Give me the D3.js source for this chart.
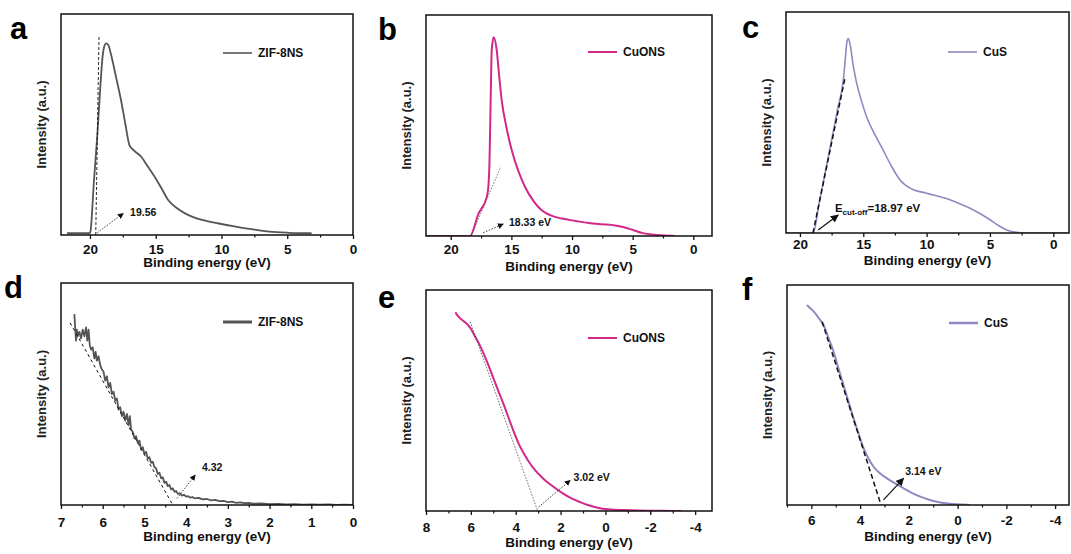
<!DOCTYPE html>
<html>
<head>
<meta charset="utf-8">
<script src="https://cdn.jsdelivr.net/npm/d3@7"></script>
<style>
  body { margin: 0; background: #fff; }
  svg { font-family: "Liberation Sans", Arial, sans-serif; }
</style>
</head>
<body>
<svg id="chart" width="1071" height="554"></svg>
<script>
// ---- data (binding energy eV, intensity a.u. normalised 0..1) ----
const zifCutoff = [[21.74,0.008],[20.0,0.008],[19.95,0.02],[19.7,0.24],[19.43,0.46],[19.2,0.68],[19.05,0.8],[18.9,0.855],
  [18.77,0.867],[18.6,0.86],[18.41,0.82],[18.0,0.71],[17.64,0.611],[17.3,0.5],[17.0,0.407],[16.6,0.38],[16.1,0.354],
  [15.6,0.31],[15.08,0.264],[14.5,0.205],[14.05,0.158],[13.4,0.122],[12.77,0.098],[12.1,0.08],[11.48,0.068],
  [10.2,0.052],[8.92,0.038],[7.6,0.025],[6.35,0.015],[4.8,0.01],[3.15,0.008]];
const cuonsCutoff = [[22.0,0],[18.41,0],[17.72,0.1],[17.03,0.177],[16.9,0.222],[16.8,0.35],[16.76,0.464],[16.68,0.7],
  [16.62,0.841],[16.46,0.899],[16.21,0.841],[16.0,0.72],[15.8,0.615],[15.4,0.49],[14.97,0.388],[14.4,0.29],
  [13.87,0.222],[13.2,0.16],[12.5,0.116],[11.7,0.092],[10.85,0.079],[9.7,0.068],[8.65,0.059],[7.5,0.053],
  [6.46,0.048],[5.9,0.042],[5.36,0.034],[4.8,0.024],[4.25,0.014],[3.4,0.007],[2.6,0.003],[1.5,0]];
const cusCutoff = [[21.1,0],[18.95,0],[18.5,0.13],[18.0,0.277],[17.5,0.42],[17.0,0.568],[16.58,0.69],[16.4,0.8],
  [16.31,0.857],[16.19,0.88],[16.05,0.857],[15.8,0.76],[15.52,0.677],[15.1,0.59],[14.74,0.526],[14.1,0.447],
  [13.43,0.375],[12.8,0.305],[12.1,0.24],[11.2,0.2],[10.0,0.18],[9.0,0.165],[8.16,0.15],[7.3,0.13],[6.58,0.112],
  [5.8,0.088],[5.0,0.06],[4.3,0.033],[3.69,0.014],[3.0,0.004],[2.1,0],[-1.2,0]];
const zifValence = [[6.68,0.86],[6.66,0.8],[6.64,0.74],[6.62,0.79],[6.6,0.76],[6.56,0.78],[6.52,0.75],[6.48,0.79],
  [6.44,0.76],[6.4,0.8],[6.37,0.74],[6.34,0.79],[6.31,0.72],[6.28,0.7],[6.24,0.71],[6.2,0.66],[6.17,0.69],
  [6.14,0.65],[6.1,0.67],[6.06,0.63],[6.02,0.61],[5.98,0.6],[5.94,0.56],[5.9,0.58],[5.86,0.53],[5.82,0.55],
  [5.78,0.5],[5.74,0.51],[5.7,0.47],[5.66,0.48],[5.62,0.43],[5.58,0.44],[5.54,0.4],[5.5,0.42],[5.46,0.38],
  [5.42,0.41],[5.38,0.36],[5.35,0.4],[5.32,0.34],[5.28,0.33],[5.24,0.3],[5.2,0.31],[5.16,0.28],[5.12,0.29],
  [5.08,0.25],[5.04,0.26],[5.0,0.23],[4.96,0.24],[4.92,0.21],[4.88,0.215],[4.84,0.19],[4.8,0.195],[4.76,0.17],
  [4.72,0.165],[4.68,0.14],[4.64,0.145],[4.6,0.12],[4.56,0.125],[4.52,0.1],[4.48,0.105],[4.44,0.085],[4.4,0.09],
  [4.36,0.07],[4.32,0.075],[4.28,0.06],[4.24,0.063],[4.2,0.05],[4.15,0.052],[4.1,0.042],[4.05,0.046],[4.0,0.038],
  [3.95,0.04],[3.9,0.033],[3.85,0.036],[3.8,0.03],[3.7,0.032],[3.6,0.025],[3.5,0.027],[3.4,0.021],[3.3,0.023],
  [3.2,0.017],[3.1,0.019],[3.0,0.013],[2.9,0.015],[2.8,0.01],[2.7,0.012],[2.6,0.008],[2.5,0.009],[2.4,0.006],
  [2.2,0.007],[2.0,0.004],[1.8,0.005],[1.6,0.003],[1.4,0.004],[1.2,0.002],[1.0,0.003],[0.8,0.002],[0.6,0.003],
  [0.4,0.001],[0.2,0.002],[0.0,0.001]];
const cuonsValence = [[6.69,0.899],[6.6,0.885],[6.5,0.874],[6.4,0.865],[6.3,0.857],[6.2,0.849],[6.1,0.838],[6.0,0.825],
  [5.9,0.806],[5.8,0.787],[5.66,0.762],[5.5,0.728],[5.35,0.693],[5.21,0.658],[5.0,0.602],[4.76,0.539],[4.5,0.472],
  [4.32,0.422],[4.1,0.362],[3.87,0.305],[3.65,0.262],[3.43,0.225],[3.1,0.18],[2.83,0.152],[2.5,0.123],[2.24,0.104],
  [1.9,0.08],[1.49,0.056],[1.1,0.039],[0.75,0.026],[0.3,0.014],[-0.14,0.008],[-0.8,0.004],[-1.47,0.002],
  [-2.5,0.001],[-3.4,0]];
const cusValence = [[6.18,0.909],[6.1,0.9],[6.0,0.89],[5.9,0.879],[5.7,0.85],[5.5,0.818],[5.3,0.76],[5.09,0.697],
  [4.9,0.625],[4.68,0.545],[4.5,0.478],[4.27,0.394],[4.05,0.32],[3.86,0.258],[3.65,0.21],[3.45,0.174],[3.2,0.145],
  [2.9,0.121],[2.55,0.097],[2.22,0.076],[1.9,0.056],[1.53,0.038],[1.2,0.025],[0.85,0.015],[0.4,0.007],
  [0.03,0.003],[-0.4,0.001],[-0.5,0]];

// linear fits used for the cut-off / onset extrapolation
const zifCutoffFit = [[19.56,0],[19.31,0.9]];
const cuonsCutoffFit = [[18.33,0],[15.87,0.313]];
const cusCutoffFit = [[18.97,0],[16.45,0.7]];
const zifValenceFit = [[6.78,0.82],[4.32,0]];
const cuonsValenceFit = [[6.03,0.856],[3.02,0]];
const cusValenceFit = [[5.56,0.833],[3.14,0]];

// annotation arrows (from, to) and label anchors
const zifCutoffArrow = [[19.45,0.01],[17.46,0.098]];
const cuonsCutoffArrow = [[17.32,0.015],[15.67,0.054]];
const cusCutoffArrow = [[18.56,0.014],[16.98,0.081]];
const zifValenceArrow = [[4.22,0.03],[3.78,0.135]];
const cuonsValenceArrow = [[2.98,0.018],[1.57,0.139]];
const cusValenceArrow = [[3.04,0.023],[2.22,0.121]];
const labelAnchors = [[16.95,0.088],[15.2,0.045],[17.24,0.095],[3.62,0.153],[1.42,0.135],[2.15,0.136]];
const labelTexts = ["19.56", "18.33 eV", "18.97 eV", "4.32", "3.02 eV", "3.14 eV"];

const seriesNames = ["ZIF-8NS", "CuONS", "CuS", "ZIF-8NS", "CuONS", "CuS"];
const panelLetters = ["a", "b", "c", "d", "e", "f"];

const ticksCutoff = [20, 15, 10, 5, 0];
const minorCutoff = [17.5, 12.5, 7.5, 2.5];
const ticksZifValence = [7, 6, 5, 4, 3, 2, 1, 0];
const minorZifValence = [6.5, 5.5, 4.5, 3.5, 2.5, 1.5, 0.5];
const ticksCuonsValence = [8, 6, 4, 2, 0, -2, -4];
const ticksCusValence = [6, 4, 2, 0, -2, -4];
const minorValence = [7, 5, 3, 1, -1, -3];

const svg = d3.select("#chart");
const GRAY = "#555555", MAGENTA = "#d1288a", LAVENDER = "#8e8ac1";

const defs = svg.append("defs");
[["arrS", 6], ["arrL", 8]].forEach(([id, s]) => {
  defs.append("marker")
    .attr("id", id)
    .attr("viewBox", "0 0 10 10")
    .attr("refX", 9).attr("refY", 5)
    .attr("markerUnits", "userSpaceOnUse")
    .attr("markerWidth", s).attr("markerHeight", s)
    .attr("orient", "auto")
    .append("path").attr("d", "M0,0 L10,5 L0,10 z").attr("fill", "#111");
});

const panels = [
  { box: [61, 14, 292, 221], dom: [22.2, 0], data: zifCutoff, color: GRAY, lw: 1.8, smooth: true,
    fit: zifCutoffFit, fitStyle: ["3,2", 0.9, "#111"], arrow: zifCutoffArrow, arrowStyle: ["1.5,1.5", 0.8, "arrS"],
    ticks: ticksCutoff, minor: minorCutoff, tickBase: 19, titleBase: 32, legY: 39, legW: 1.6, letter: [10, 39] },
  { box: [426, 15, 286, 221], dom: [22.04, -1.54], data: cuonsCutoff, color: MAGENTA, lw: 2, smooth: true,
    fit: cuonsCutoffFit, fitStyle: ["1.5,1.5", 0.8, "#555"], arrow: cuonsCutoffArrow, arrowStyle: ["1.5,1.5", 0.8, "arrS"],
    ticks: ticksCutoff, minor: minorCutoff, tickBase: 18, titleBase: 35, legY: 37, legW: 2, letter: [378, 40] },
  { box: [786, 12, 283, 221], dom: [21.1, -1.24], data: cusCutoff, color: LAVENDER, lw: 1.6, smooth: true,
    fit: cusCutoffFit, fitStyle: ["5,3", 1.5, "#111"], arrow: cusCutoffArrow, arrowStyle: [null, 1.2, "arrL"],
    ticks: ticksCutoff, minor: minorCutoff, tickBase: 16, titleBase: 32, legY: 40, legW: 1.6, letter: [742, 38], sub: true },
  { box: [61, 283, 292, 222], dom: [7, 0], data: zifValence, color: GRAY, lw: 1.8, smooth: false,
    fit: zifValenceFit, fitStyle: ["3,3", 1, "#111"], arrow: zifValenceArrow, arrowStyle: ["1.5,1.5", 0.8, "arrS"],
    ticks: ticksZifValence, minor: minorZifValence, tickBase: 22, titleBase: 36, legY: 39, legW: 3, letter: [4, 298] },
  { box: [426, 290, 286, 221], dom: [8, -4.75], data: cuonsValence, color: MAGENTA, lw: 2, smooth: true,
    fit: cuonsValenceFit, fitStyle: ["1.5,1.5", 0.8, "#444"], arrow: cuonsValenceArrow, arrowStyle: ["1.5,1.5", 0.8, "arrS"],
    ticks: ticksCuonsValence, minor: minorValence, tickBase: 21, titleBase: 36, legY: 48, legW: 2, letter: [378, 308] },
  { box: [787, 285, 282, 220], dom: [7, -4.57], data: cusValence, color: LAVENDER, lw: 2, smooth: true,
    fit: cusValenceFit, fitStyle: ["5,3", 1.5, "#111"], arrow: cusValenceArrow, arrowStyle: [null, 1.2, "arrL"],
    ticks: ticksCusValence, minor: minorValence, tickBase: 20, titleBase: 36, legY: 38, legW: 2.5, letter: [742, 300] }
];

panels.forEach((p, i) => {
  const [left, top, w, h] = p.box;
  const x = d3.scaleLinear().domain(p.dom).range([0, w]);
  const y = d3.scaleLinear().domain([0, 1]).range([h, 0]);
  const g = svg.append("g").attr("transform", `translate(${left},${top})`);

  // clip so curves stay inside the frame
  defs.append("clipPath").attr("id", "clip" + i)
    .append("rect").attr("width", w).attr("height", h);

  // monotone needs increasing x, so draw an ascending copy
  const line = d3.line()
    .x(d => x(d[0])).y(d => y(d[1]))
    .curve(p.smooth ? d3.curveMonotoneX : d3.curveLinear);
  const sorted = p.data.slice().sort((a, b) => x(a[0]) - x(b[0]));

  const plot = g.append("g").attr("clip-path", `url(#clip${i})`);
  plot.append("path").datum(sorted)
    .attr("d", line).attr("fill", "none")
    .attr("stroke", p.color).attr("stroke-width", p.lw)
    .attr("stroke-linejoin", "round");

  const straight = d3.line().x(d => x(d[0])).y(d => y(d[1]));
  plot.append("path").datum(p.fit)
    .attr("d", straight).attr("fill", "none")
    .attr("stroke", p.fitStyle[2]).attr("stroke-width", p.fitStyle[1])
    .attr("stroke-dasharray", p.fitStyle[0]);

  g.append("path").datum(p.arrow)
    .attr("d", straight).attr("fill", "none")
    .attr("stroke", "#111").attr("stroke-width", p.arrowStyle[1])
    .attr("stroke-dasharray", p.arrowStyle[0])
    .attr("marker-end", `url(#${p.arrowStyle[2]})`);

  // annotation
  const la = labelAnchors[i];
  const t = g.append("text")
    .attr("x", x(la[0])).attr("y", y(la[1]))
    .attr("font-weight", "bold").attr("font-size", 10.5).attr("fill", "#111");
  if (p.sub) {
    t.attr("font-size", 11.5);
    t.append("tspan").text("E");
    t.append("tspan").attr("dy", 3).attr("font-size", 8).text("cut-off");
    t.append("tspan").attr("dy", -3).text("=" + labelTexts[i]);
  } else {
    t.text(labelTexts[i]);
  }

  // frame
  g.append("rect").attr("width", w).attr("height", h)
    .attr("fill", "none").attr("stroke", "#111").attr("stroke-width", 1.5);

  // axes
  const fs = 13.5;
  const major = g.append("g").attr("transform", `translate(0,${h})`)
    .call(d3.axisBottom(x).tickValues(p.ticks).tickSizeInner(4).tickSizeOuter(0)
      .tickPadding(p.tickBase - 4 - 0.71 * fs).tickFormat(d => String(d)));
  major.select(".domain").remove();
  major.selectAll("line").attr("stroke", "#111").attr("stroke-width", 1.3);
  major.selectAll("text").attr("font-size", fs).attr("font-weight", "bold")
    .attr("font-family", "Liberation Sans, Arial, sans-serif").attr("fill", "#111");

  const minor = g.append("g").attr("transform", `translate(0,${h})`)
    .call(d3.axisBottom(x).tickValues(p.minor).tickSizeInner(2.5).tickSizeOuter(0).tickFormat(""));
  minor.select(".domain").remove();
  minor.selectAll("line").attr("stroke", "#111").attr("stroke-width", 1.2);

  g.append("text")
    .attr("x", w / 2).attr("y", h + p.titleBase)
    .attr("text-anchor", "middle")
    .attr("font-size", 13.5).attr("font-weight", "bold").attr("fill", "#111")
    .text("Binding energy (eV)");

  g.append("text")
    .attr("transform", `translate(-15,${h / 2}) rotate(-90)`)
    .attr("text-anchor", "middle")
    .attr("font-size", 13).attr("font-weight", "bold").attr("fill", "#222")
    .text("Intensity (a.u.)");

  // legend
  g.append("line")
    .attr("x1", 162).attr("x2", 191).attr("y1", p.legY).attr("y2", p.legY)
    .attr("stroke", p.color).attr("stroke-width", p.legW);
  g.append("text")
    .attr("x", 197).attr("y", p.legY)
    .attr("dominant-baseline", "central")
    .attr("font-size", 12).attr("font-weight", "bold").attr("fill", "#111")
    .text(seriesNames[i]);

  // panel letter
  svg.append("text")
    .attr("x", p.letter[0]).attr("y", p.letter[1])
    .attr("font-size", 31).attr("font-weight", "bold").attr("fill", "#000")
    .text(panelLetters[i]);
});
</script>
</body>
</html>
